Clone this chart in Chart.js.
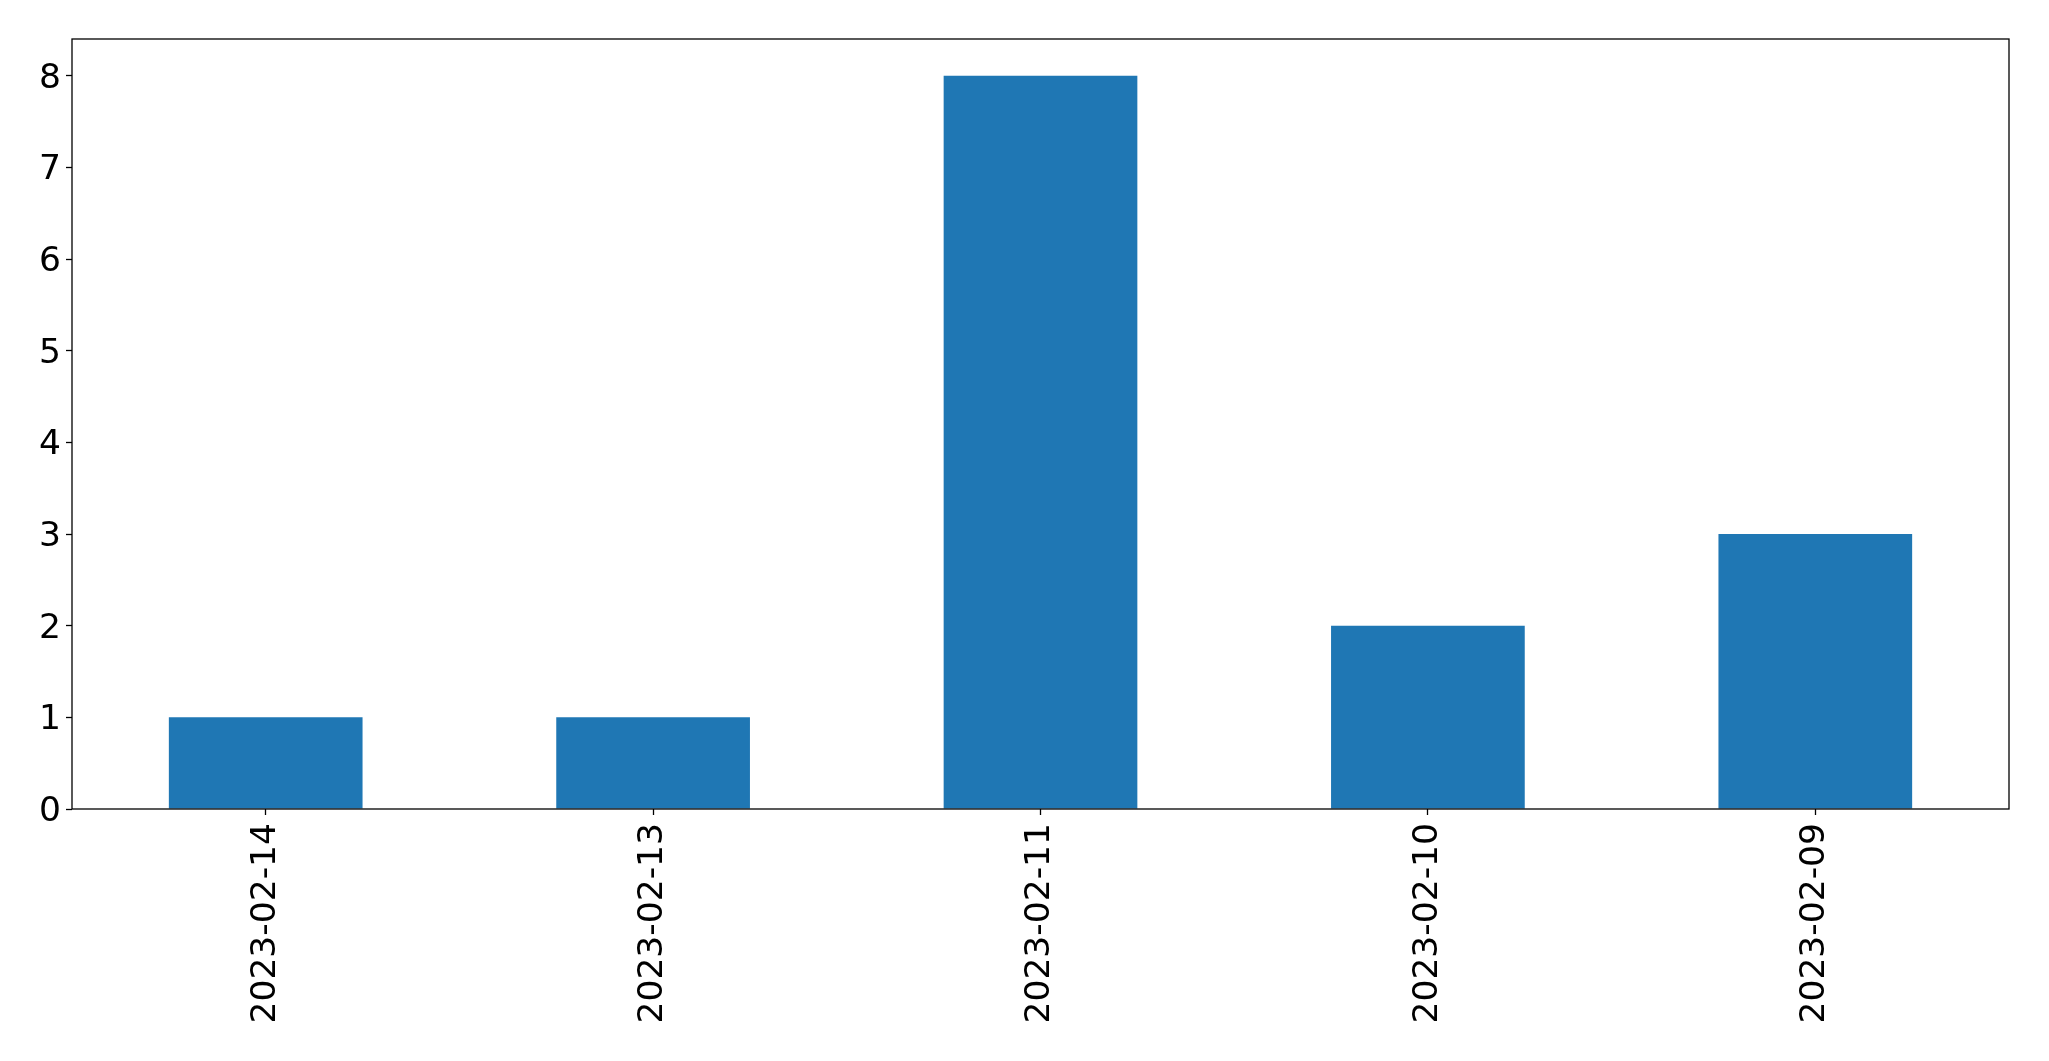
<!DOCTYPE html>
<html>
<head>
<meta charset="utf-8">
<script src="https://cdn.jsdelivr.net/npm/chart.js@4/dist/chart.umd.min.js"></script>
<style>
  html, body { margin: 0; padding: 0; background: #fff; }
  #wrap { width: 2049px; height: 1061px; }
</style>
</head>
<body>
<div id="wrap"><canvas id="myChart" width="2049" height="1061"></canvas></div>
<script>
var dates  = ["2023-02-14", "2023-02-13", "2023-02-11", "2023-02-10", "2023-02-09"];
var counts = [1, 1, 8, 2, 3];
var yTicks = [0, 1, 2, 3, 4, 5, 6, 7, 8];
var yMax   = 8.4;

// border round the plot area, like matplotlib's axes frame
var frame = {
	id: 'frame',
	afterDraw: function(chart) {
		var a = chart.chartArea;
		var ctx = chart.ctx;
		ctx.save();
		ctx.strokeStyle = '#000';
		ctx.lineWidth = 1.3;
		ctx.strokeRect(a.left, a.top, a.right - a.left, a.bottom - a.top);
		ctx.restore();
	}
};

Chart.defaults.font.family = "'DejaVu Sans', sans-serif";
Chart.defaults.color = '#000';

var myChart = new Chart("myChart", {
	type: "bar",
	data: {
		labels: dates,
		datasets: [{
			data: counts,
			backgroundColor: '#1f77b4',
			barPercentage: 0.5,
			categoryPercentage: 1.0
		}]
	},
	options: {
		responsive: false,
		animation: false,
		layout: { padding: { top: 39, right: 40, left: 0, bottom: 0 } },
		plugins: {
			legend: { display: false },
			tooltip: { enabled: false }
		},
		scales: {
			x: {
				grid: { offset: false, drawOnChartArea: false, tickLength: 6, tickColor: '#000', tickWidth: 1.3 },
				border: { display: false },
				ticks: { font: { size: 34.5 }, maxRotation: 90, minRotation: 90, padding: 8 },
				afterFit: function(scale) { scale.height = 252; }
			},
			y: {
				min: 0,
				max: yMax,
				grid: { drawOnChartArea: false, tickLength: 6, tickColor: '#000', tickWidth: 1.3 },
				border: { display: false },
				ticks: { font: { size: 34.5 }, padding: 5, labelOffset: 3 },
				afterBuildTicks: function(scale) {
					scale.ticks = yTicks.map(function(v) { return { value: v }; });
				},
				afterFit: function(scale) { scale.width = 72; }
			}
		}
	},
	plugins: [frame]
});
</script>
</body>
</html>
